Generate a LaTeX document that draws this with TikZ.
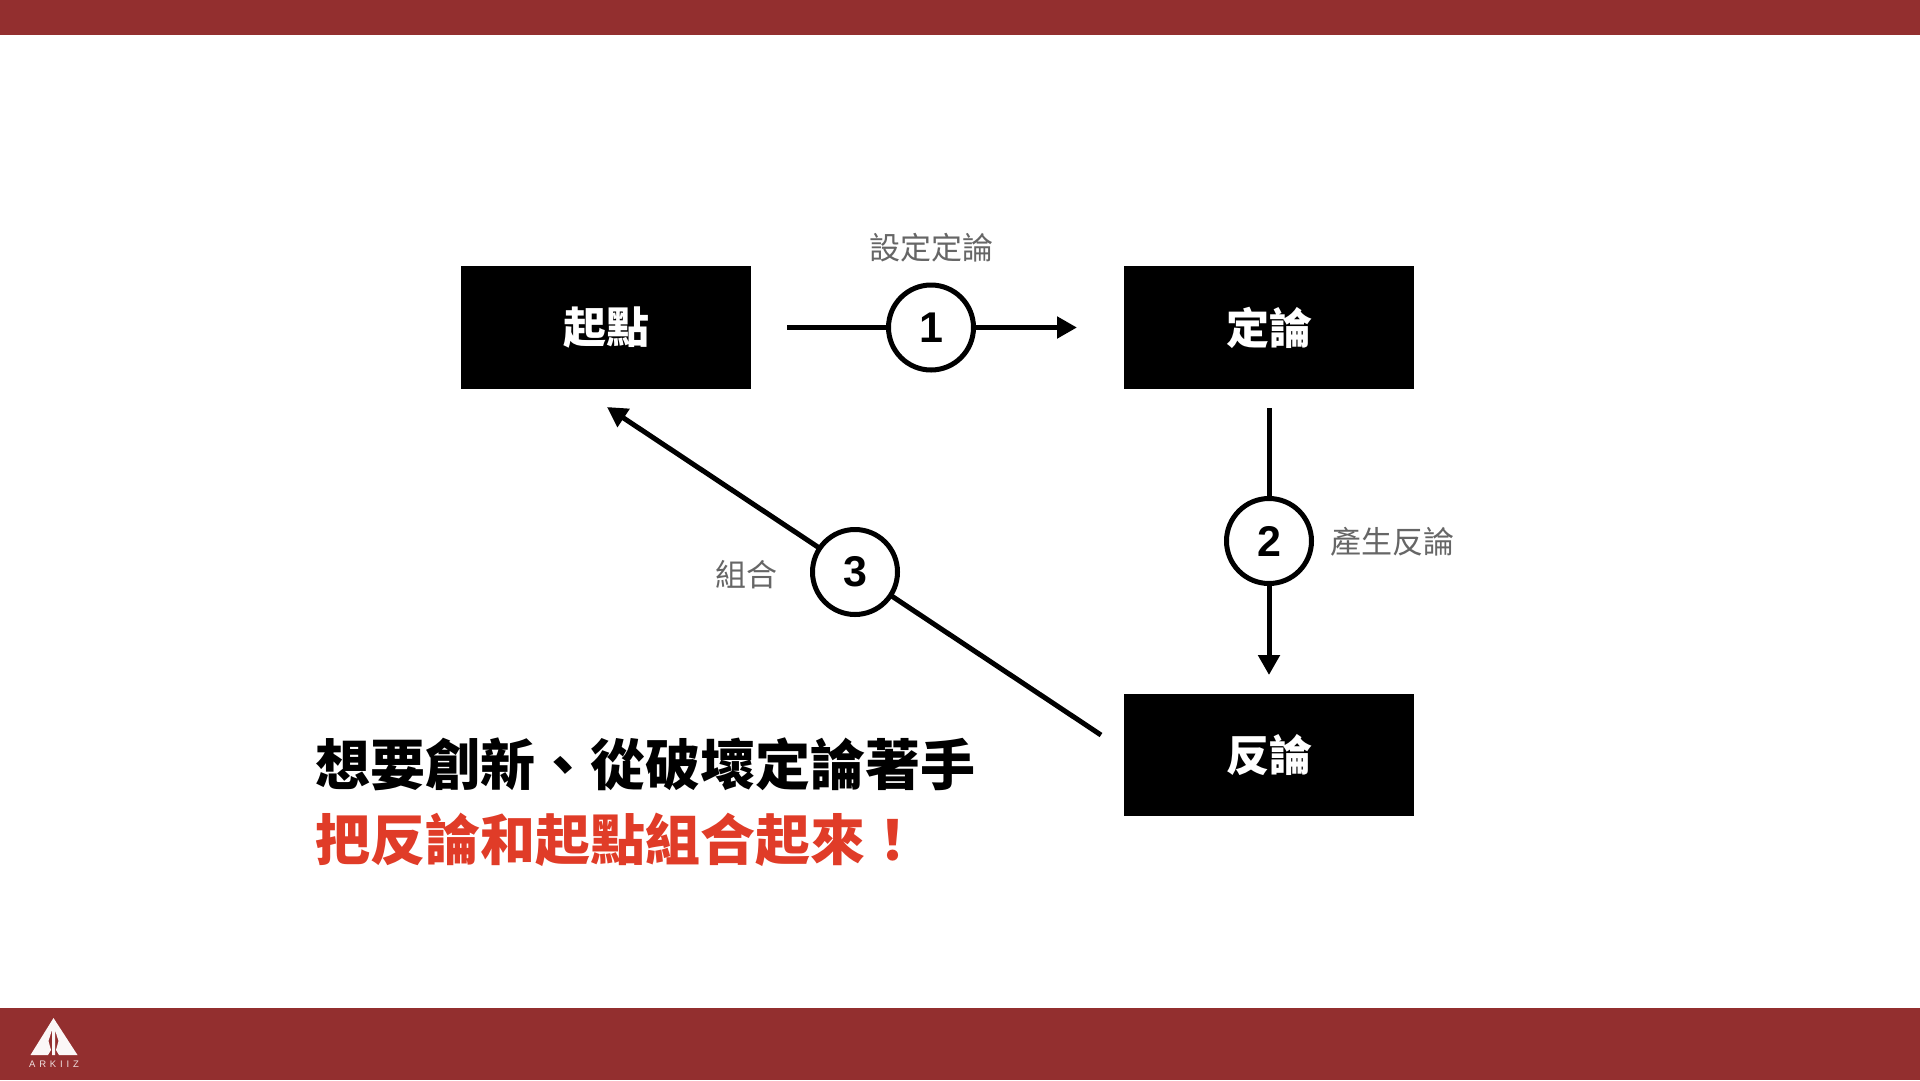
\documentclass[tikz,border=0pt]{standalone}
\usepackage{fontspec}
\setmainfont{Liberation Sans}
\newfontfamily\cjk{Noto Sans CJK TC}
\usetikzlibrary{arrows.meta}
\definecolor{bandred}{HTML}{932F2F}
\definecolor{accent}{HTML}{E03C28}
\definecolor{labelgray}{HTML}{666666}
\tikzset{
  box/.style={fill=black,draw=none,minimum width=289.5pt,minimum height=122.5pt,inner sep=0pt,text=white,font=\cjk\bfseries\fontsize{43}{50}\selectfont},
  badge/.style={circle,draw=black,line width=5pt,fill=white,minimum size=85pt,inner sep=0pt,font=\bfseries\fontsize{43}{50}\selectfont},
  flow/.style={line width=5pt,draw=black,-{Triangle[length=20pt,width=21pt]}},
  note/.style={text=labelgray,inner sep=0pt,font=\cjk\fontsize{31}{36}\selectfont},
  headline/.style={anchor=west,inner sep=0pt,font=\cjk\bfseries\fontsize{55}{64}\selectfont}
}
\begin{document}
\begin{tikzpicture}[x=1pt,y=-1pt]
\useasboundingbox (0,0) rectangle (1920,1080);
\fill[white] (0,0) rectangle (1920,1080);
\fill[bandred] (0,0) rectangle (1920,35);
\fill[bandred] (0,1008) rectangle (1920,1080);
% logo
\fill[white!96!bandred] (53.5,1018) -- (77.5,1055) -- (59,1055) -- (56,1050) -- (58.5,1041) -- (55,1030) -- (55,1042) -- (55,1055) -- (52,1055) -- (52,1042) -- (52,1030) -- (48.5,1041) -- (51,1050) -- (48,1055) -- (30.5,1055) -- cycle;
\node[inner sep=0pt,text=white!85!bandred,font=\fontsize{9.5}{10}\selectfont] (brand) at (54,1064) {A\hspace{3.8pt}R\hspace{3.8pt}K\hspace{3.8pt}I\hspace{3.8pt}I\hspace{3.8pt}Z};
% boxes
\node[box] (start) at (606,327.5) {起點};
\node[box] (thesis) at (1269,327.5) {定論};
\node[box] (anti) at (1269,755) {反論};
% free ends
\coordinate (a1) at (787,327.5);
\coordinate (b1) at (1077,327.5);
\coordinate (a2) at (1269,408);
\coordinate (b2) at (1269,675);
\coordinate (a3) at (1101,735);
\coordinate (b3) at (607,407);
\draw[flow] (a1) -- (b1);
\draw[flow] (a2) -- (b2);
\draw[flow] (a3) -- (b3);
% badges
\node[badge] (n1) at (931,327.5) {1};
\node[badge] (n2) at (1269,541) {2};
\node[badge] (n3) at (855,572) {3};
% notes
\node[note] (t1) at (931.5,248) {設定定論};
\node[note] (t2) at (1392,542) {產生反論};
\node[note] (t3) at (746.5,575) {組合};
% headline
\node[headline] (h1) at (315,764) {想要創新、從破壞定論著手};
\node[headline,text=accent] (h2) at (315,840) {把反論和起點組合起來！};
\end{tikzpicture}
\end{document}
